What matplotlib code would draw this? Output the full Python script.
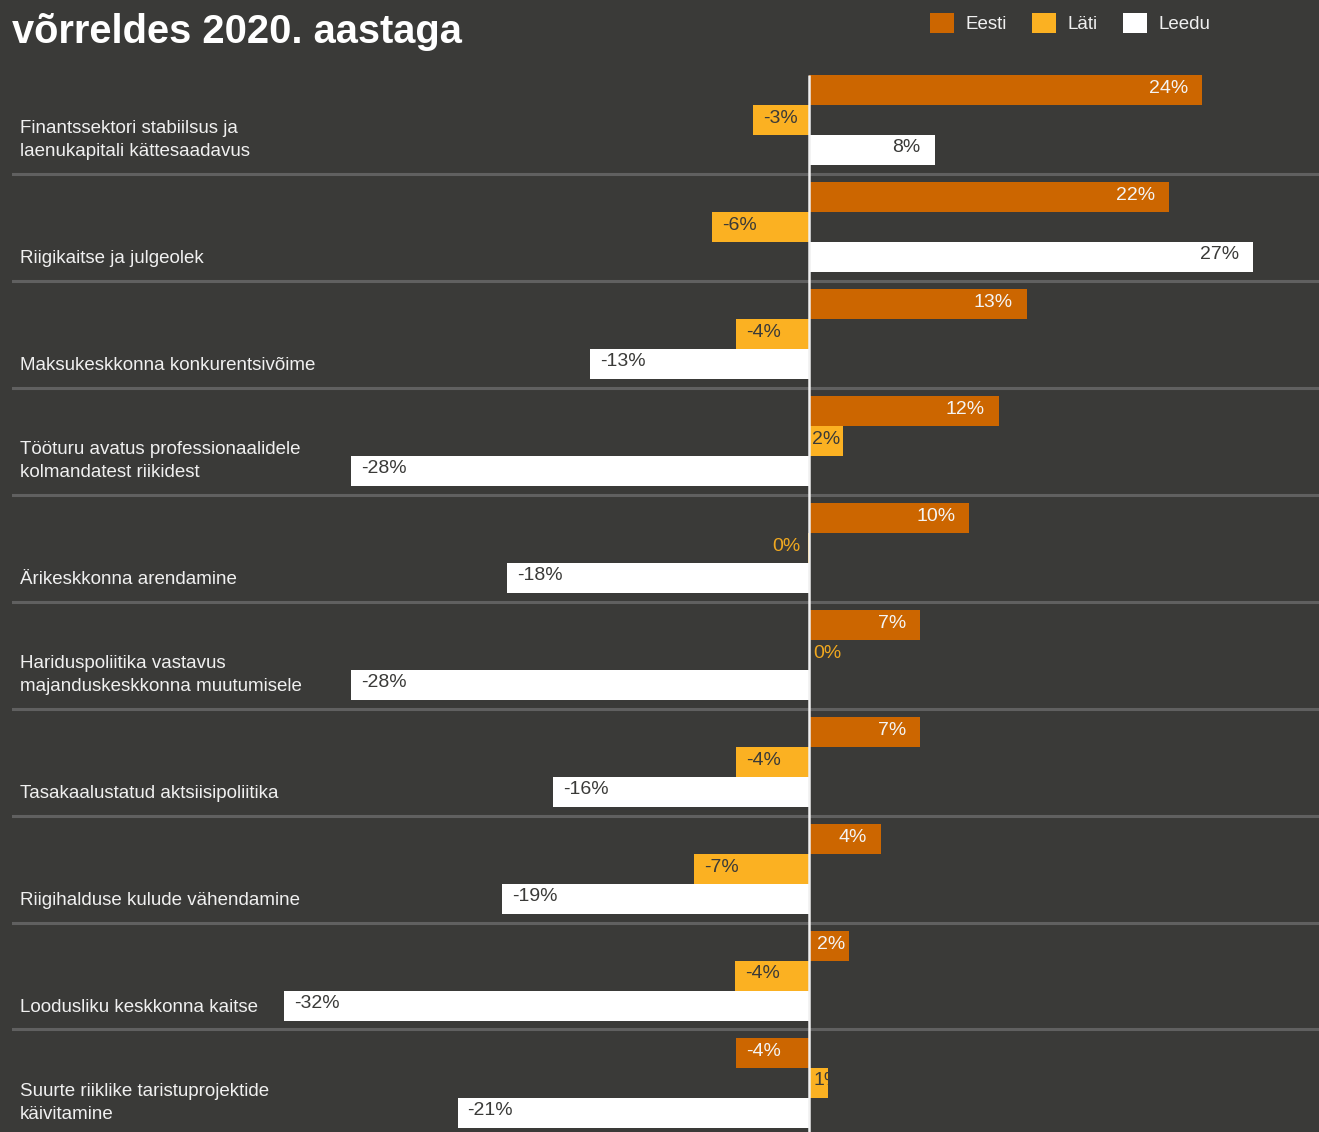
import numpy as np
import matplotlib.pyplot as plt
import matplotlib.transforms as mtransforms
from matplotlib.patches import Patch

plt.rcParams['font.family'] = ['Liberation Sans', 'DejaVu Sans']

# ------- andmed
categories = [
    "Finantssektori stabiilsus ja\nlaenukapitali kättesaadavus",
    "Riigikaitse ja julgeolek",
    "Maksukeskkonna konkurentsivõime",
    "Tööturu avatus professionaalidele\nkolmandatest riikidest",
    "Ärikeskkonna arendamine",
    "Hariduspoliitika vastavus\nmajanduskeskkonna muutumisele",
    "Tasakaalustatud aktsiisipoliitika",
    "Riigihalduse kulude vähendamine",
    "Loodusliku keskkonna kaitse",
    "Suurte riiklike taristuprojektide\nkäivitamine",
]
series_names = ["Eesti", "Läti", "Leedu"]
eesti = [24.0, 22.0, 13.3, 11.6, 9.8, 6.8, 6.8, 4.4, 2.45, -4.4]
lati = [-3.4, -5.9, -4.4, 2.1, -0.04, 0.04, -4.4, -7.0, -4.5, 1.2]
leedu = [7.7, 27.1, -13.3, -27.9, -18.4, -27.9, -15.6, -18.7, -32.0, -21.4]
title = "võrreldes 2020. aastaga"

# ------- stiil
bg = '#3a3a38'
colors = ['#cc6600', '#fbb122', '#ffffff']
label_colors = ['#f4f4f4', '#3a3a38', '#3a3a38']
sep_color = '#606060'
text_color = '#f0f0f0'

W, H = 1319, 1132
fig = plt.figure(figsize=(W / 100, H / 100), dpi=100, facecolor=bg)
ax = fig.add_axes([12 / W, 0, (W - 12) / W, (H - 66) / H])
ax.set_facecolor(bg)
for s in ax.spines.values():
    s.set_visible(False)
ax.set_xticks([])
ax.set_yticks([])

n = len(categories)
y = np.arange(n)
bar_h = 0.28
offsets = [-0.28, 0.0, 0.28]

for k, vals in enumerate([eesti, lati, leedu]):
    bars = ax.barh(y + offsets[k], vals, height=bar_h, color=colors[k],
                   edgecolor='none', zorder=2)
    for bar, v in zip(bars, vals):
        lab = int(round(v))
        yc = bar.get_y() + bar.get_height() / 2
        if lab == 0:
            # nulli silt väljaspool tulpa
            if v < 0:
                ax.annotate("0%", (0, yc), xytext=(-8, 2), textcoords='offset pixels',
                            ha='right', va='center', fontsize=14, color='#f0a820', zorder=4)
            else:
                ax.annotate("0%", (0, yc), xytext=(5, 2), textcoords='offset pixels',
                            ha='left', va='center', fontsize=14, color='#f0a820', zorder=4)
            continue
        if abs(v) < 1.5:
            xpos, dx, ha = 0, (5 if v > 0 else -5), ('left' if v > 0 else 'right')
        elif 0 < v < 3:
            xpos, dx, ha = v, -3, 'right'
        elif v > 0:
            xpos, dx, ha = v, -14, 'right'
        else:
            xpos, dx, ha = v, 10, 'left'
        t = ax.annotate(f"{lab}%", (xpos, yc), xytext=(dx, 2), textcoords='offset pixels',
                        ha=ha, va='center', fontsize=14, color=label_colors[k], zorder=4)
        t.set_clip_path(bar)

# eraldusjooned
for i in range(n - 1):
    ax.axhline(i + 0.5, color=sep_color, lw=2.2, zorder=1)

# nulljoon
ax.vlines(0, -0.42, 10, color='#f0f0f0', lw=1.8, zorder=3)

ax.set_xlim((12 - 808.5) / 16.4, (W - 808.5) / 16.4)
ax.set_ylim(9.458, -0.505)

# kategooriate nimed
trans = mtransforms.blended_transform_factory(fig.transFigure, ax.transData)
for i, c in enumerate(categories):
    ax.annotate(c, (20 / W, i + 0.28), xycoords=trans, xytext=(0, -10),
                textcoords='offset pixels', ha='left', va='bottom',
                fontsize=13.5, linespacing=1.45, color=text_color,
                annotation_clip=False)

fig.text(12 / W, 1 - 43 / H, title, fontsize=28.7, fontweight='bold',
         color='#ffffff', va='baseline', ha='left')

handles = [Patch(facecolor=c, edgecolor='none', label=nm) for c, nm in zip(colors, series_names)]
fig.legend(handles=handles, loc='upper left', bbox_to_anchor=(930 / W, 1 - 13 / H),
           frameon=False, ncol=3, handlelength=1.28, handleheight=1.28,
           handletextpad=0.62, columnspacing=1.35, borderpad=0, borderaxespad=0,
           fontsize=13.5, labelcolor=text_color)

fig.savefig('out.png', dpi=100, facecolor=bg)
